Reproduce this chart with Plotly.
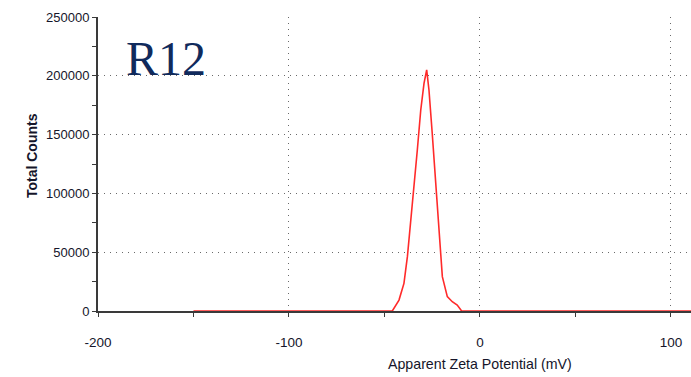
import plotly.graph_objects as go

# Zeta potential distribution (sample R12)
potential_mv = [-150, -45.9, -42.4, -39.8, -38.0, -36.3, -34.6, -32.8, -31.0, -29.3,
                -27.9, -26.7, -25.0, -23.2, -21.5, -19.7, -17.1, -14.5, -11.9, -9.6, 120]
total_counts = [0, 0, 9300, 23500, 46200, 74600, 108600, 136900, 170900, 193600,
                205000, 187900, 151100, 108600, 63200, 29200, 12200, 7900, 5100, 0, 0]

x_ticks = [-200, -100, 0, 100]
y_ticks = [0, 50000, 100000, 150000, 200000, 250000]

FONT = "Liberation Sans, Arial, sans-serif"
INK = "#15152a"

fig = go.Figure()
fig.add_trace(go.Scatter(
    x=potential_mv, y=total_counts, mode="lines",
    line=dict(color="#ff2a2a", width=1.6),
    hoverinfo="skip", showlegend=False,
))

grid = dict(showgrid=True, gridcolor="#6a6a6a", gridwidth=1, griddash="1px,5px")

fig.update_xaxes(
    range=[-200, 110.5], tickvals=x_ticks, ticktext=[str(v) for v in x_ticks],
    showline=True, linecolor="#3a3a3a", linewidth=2,
    ticks="outside", ticklen=4, tickcolor="#3a3a3a", tickwidth=1,
    minor=dict(dtick=50, tick0=-150, ticks="outside", ticklen=4, tickcolor="#3a3a3a", showgrid=False),
    tickfont=dict(family=FONT, size=13.5, color=INK), ticklabelstandoff=14,
    zeroline=False, **grid,
)
fig.update_yaxes(
    range=[0, 250000], tickvals=y_ticks, ticktext=[str(v) for v in y_ticks],
    showline=True, linecolor="#3a3a3a", linewidth=2,
    ticks="outside", ticklen=4, tickcolor="#3a3a3a", tickwidth=1,
    minor=dict(dtick=25000, ticks="outside", ticklen=4, tickcolor="#3a3a3a", showgrid=False),
    tickfont=dict(family=FONT, size=13, color=INK), ticklabelstandoff=0,
    zeroline=False, **grid,
)

fig.add_annotation(
    x=0, xref="x", y=-0.18, yref="paper", yanchor="middle",
    text="Apparent Zeta Potential (mV)", showarrow=False,
    font=dict(family=FONT, size=14.2, color=INK),
)
fig.add_annotation(
    x=0, xref="paper", xanchor="center", xshift=-66, y=0.527, yref="paper", yanchor="middle",
    text="<b>Total Counts</b>", textangle=-90, showarrow=False,
    font=dict(family=FONT, size=14, color=INK),
)
fig.add_annotation(
    x=0.044, xref="paper", xanchor="left", y=0.86, yref="paper", yanchor="middle",
    text="R12", showarrow=False,
    font=dict(family="Liberation Serif, Times New Roman, serif", size=48, color="#102a5c"),
)

fig.update_layout(
    width=691, height=377,
    margin=dict(l=98, r=0, t=17, b=66),
    paper_bgcolor="white", plot_bgcolor="white",
)

fig.write_html("out.html")
